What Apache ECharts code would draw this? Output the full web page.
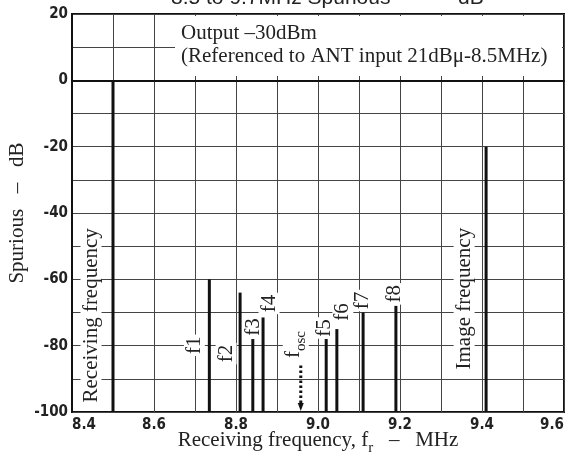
<!DOCTYPE html>
<html>
<head>
<meta charset="utf-8">
<script src="https://cdn.jsdelivr.net/npm/echarts@6/dist/echarts.min.js"></script>
<style>html,body{margin:0;padding:0;background:#fff}#c{width:568px;height:456px}</style>
</head>
<body>
<div id="c"></div>
<script>
// ---- data ----
const spurNames = ['Receiving frequency', 'f1', 'f2', 'f3', 'f4', 'f5', 'f6', 'f7', 'f8', 'Image frequency'];
const spurFreq  = [8.5, 8.735, 8.81, 8.841, 8.866, 9.02, 9.046, 9.11, 9.19, 9.41];
const spurLevel = [0, -60, -64, -78, -71.5, -78, -75, -70, -68, -20];
const oscName = 'f';
const oscSub = 'osc';
const oscFreq = [8.958];
const oscLevel = [-86];
const xTicks = [8.4, 8.6, 8.8, 9.0, 9.2, 9.4, 9.6];
const yTicks = [-100, -80, -60, -40, -20, 0, 20];
const noteLines = ['Output \u201330dBm', '(Referenced to ANT input 21dB\u03bc-8.5MHz)'];
const titleText = '8.5 to 9.7MHz Spurious    \u2014    dB';

// ---- layout (pixel offsets of labels from bar top: [dx, dy]) ----
const labelOffset = [[-22, 235], [-15, 66], [-14, 61], [1, -12], [6, -14], [-2, -11], [6, -17], [-1, -12], [-1, -12], [-22, 152]];
const SERIF = '"Liberation Serif", "DejaVu Serif", serif';
const TICKFONT = '"Liberation Sans Narrow", "DejaVu Sans Condensed", sans-serif';

const chart = echarts.init(document.getElementById('c'), null, {renderer: 'canvas'});
const yMin = yTicks[0];

chart.setOption({
  animation: false,
  backgroundColor: '#fff',
  grid: {left: 72, right: 4, top: 14, bottom: 44, show: true, borderColor: '#111', borderWidth: 2,
    containLabel: false, outerBoundsMode: 'none'},
  xAxis: {
    type: 'value', min: xTicks[0], max: xTicks[xTicks.length - 1], interval: 0.2,
    axisLine: {show: true, lineStyle: {color: '#111', width: 2}},
    axisTick: {show: false},
    minorTick: {show: false, splitNumber: 2},
    splitLine: {show: true, lineStyle: {color: '#444', width: 1}},
    minorSplitLine: {show: true, lineStyle: {color: '#444', width: 1}},
    axisLabel: {
      margin: 6, color: '#222', fontFamily: TICKFONT, fontWeight: 'bold', fontSize: 15,
      alignMinLabel: 'left', alignMaxLabel: 'right',
      formatter: v => v.toFixed(1)
    },
    name: '{a|Receiving frequency, f}{b|r}{a|   \u2013   MHz}',
    nameLocation: 'middle', nameGap: 18, nameMoveOverlap: false,
    nameTextStyle: {
      rich: {
        a: {fontFamily: SERIF, fontSize: 21, color: '#222', lineHeight: 26, verticalAlign: 'top'},
        b: {fontFamily: SERIF, fontSize: 15, color: '#222', lineHeight: 26, verticalAlign: 'bottom'}
      }
    }
  },
  yAxis: {
    type: 'value', min: yMin, max: yTicks[yTicks.length - 1], interval: 20,
    axisLine: {show: true, lineStyle: {color: '#111', width: 2}},
    axisTick: {show: false},
    minorTick: {show: false, splitNumber: 2},
    splitLine: {show: true, lineStyle: {color: '#444', width: 1}},
    minorSplitLine: {show: true, lineStyle: {color: '#444', width: 1}},
    axisLabel: {margin: 4, color: '#222', fontFamily: TICKFONT, fontWeight: 'bold', fontSize: 15},
    name: 'Spurious   \u2013   dB',
    nameLocation: 'middle', nameGap: 44, nameMoveOverlap: false,
    nameTextStyle: {fontFamily: SERIF, fontSize: 21, color: '#222'}
  },
  graphic: [
    {type: 'rect', left: 175, top: 16, shape: {width: 387, height: 60}, style: {fill: '#fff'}, z: 10},
    {type: 'text', left: 181, top: 22, z: 11,
      style: {text: noteLines.join('\n'), font: '21px ' + SERIF, fill: '#222', lineHeight: 23}},
    {type: 'text', left: 171, top: -12, z: 11,
      style: {text: titleText, font: '21px "Liberation Sans", sans-serif', fill: '#222'}}
  ],
  series: [
    {
      type: 'custom',
      data: spurFreq.map((f, i) => [f, spurLevel[i]]),
      z: 20,
      renderItem: function (params, api) {
        const i = params.dataIndex;
        const top = api.coord([api.value(0), api.value(1)]);
        const base = api.coord([api.value(0), yMin]);
        const off = labelOffset[i];
        return {
          type: 'group',
          children: [
            {type: 'line', shape: {x1: top[0], y1: top[1], x2: base[0], y2: base[1]},
              style: {stroke: '#111', lineWidth: 3}},
            {type: 'text', x: top[0] + off[0], y: top[1] + off[1], rotation: Math.PI / 2,
              style: {text: spurNames[i], fontFamily: SERIF, fontSize: 21, fill: '#222',
                align: 'center', verticalAlign: 'middle', backgroundColor: '#fff', padding: [0, 2]}}
          ]
        };
      }
    },
    {
      type: 'custom',
      data: oscFreq.map((f, i) => [f, oscLevel[i]]),
      z: 20,
      renderItem: function (params, api) {
        const top = api.coord([api.value(0), api.value(1)]);
        const base = api.coord([api.value(0), yMin]);
        return {
          type: 'group',
          children: [
            {type: 'line', shape: {x1: top[0], y1: top[1], x2: base[0], y2: base[1] - 7},
              style: {stroke: '#111', lineWidth: 3, lineDash: [2.5, 2.5]}},
            {type: 'polygon', shape: {points: [[base[0] - 3, base[1] - 9], [base[0] + 3, base[1] - 9], [base[0], base[1] - 1]]},
              style: {fill: '#111'}},
            {type: 'text', x: top[0] - 5, y: top[1] - 21, rotation: Math.PI / 2,
              style: {text: '{a|' + oscName + '}{b|' + oscSub + '}', fill: '#222',
                align: 'center', verticalAlign: 'middle', backgroundColor: '#fff',
                rich: {
                  a: {fontFamily: SERIF, fontSize: 21, lineHeight: 26, verticalAlign: 'top'},
                  b: {fontFamily: SERIF, fontSize: 15, lineHeight: 26, verticalAlign: 'bottom'}
                }}}
          ]
        };
      }
    }
  ]
});
</script>
</body>
</html>
